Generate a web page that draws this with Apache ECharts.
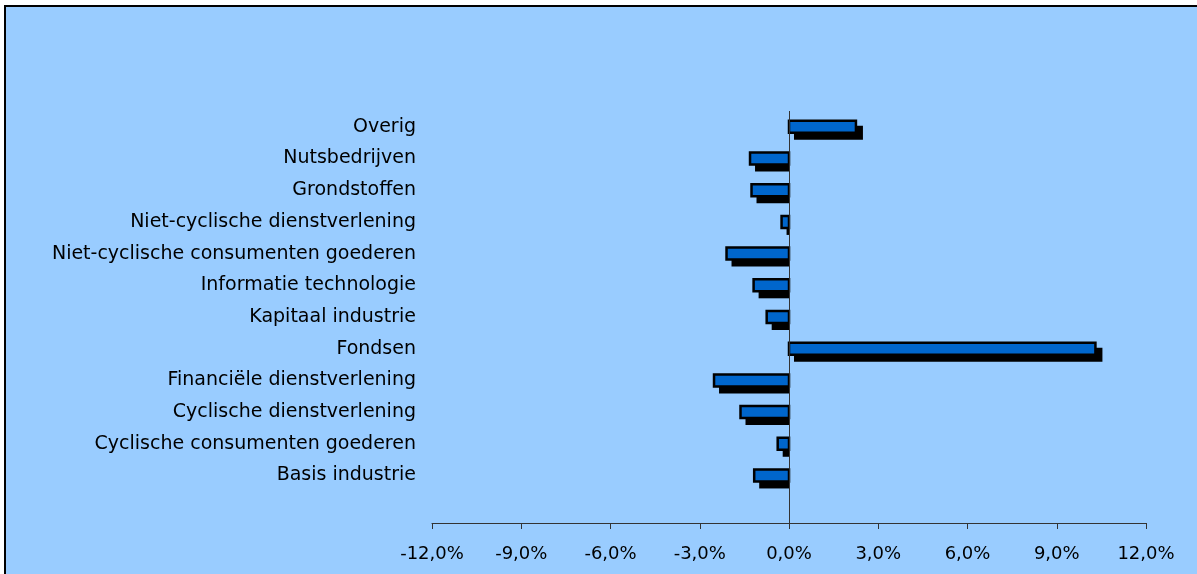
<!DOCTYPE html>
<html>
<head>
<meta charset="utf-8">
<script src="https://cdn.jsdelivr.net/npm/echarts@6/dist/echarts.min.js"></script>
<style>
  html, body { margin: 0; padding: 0; background: #fff; overflow: hidden; }
  #frame {
    position: absolute; left: 4px; top: 5px; width: 1300px; height: 700px;
    background: #99ccff; border: 2px solid #000;
  }
  #chart { position: absolute; left: 0; top: 0; width: 1197px; height: 574px; }
</style>
</head>
<body>
<div id="frame"></div>
<div id="chart"></div>
<script>
// categories from bottom to top ('' = lege rij onderaan)
const categories = [
  '',
  'Basis industrie',
  'Cyclische consumenten goederen',
  'Cyclische dienstverlening',
  'Financiële dienstverlening',
  'Fondsen',
  'Kapitaal industrie',
  'Informatie technologie',
  'Niet-cyclische consumenten goederen',
  'Niet-cyclische dienstverlening',
  'Grondstoffen',
  'Nutsbedrijven',
  'Overig'
];
// rendement in %
const values = [null, -1.17, -0.38, -1.63, -2.52, 10.3, -0.75, -1.19, -2.1, -0.25, -1.26, -1.31, 2.25];
const xTicks = { min: -12, max: 12, interval: 3 };

const myChart = echarts.init(document.getElementById('chart'));

const renderBar = (params, api) => {
  const v = api.value(0);
  const cat = api.value(1);
  const p = api.coord([v, cat]);
  const p0 = api.coord([0, cat]);
  const h = 12;
  const d = 6; // schaduw offset
  const x1 = Math.min(p[0], p0[0]);
  const x2 = Math.max(p[0], p0[0]);
  const y = p[1] - h / 2;
  let sx1, sx2;
  if (v >= 0) {
    sx1 = x1 + d; sx2 = x2 + d;
  } else {
    sx1 = x1 + d; sx2 = x2;
  }
  return {
    type: 'group',
    children: [
      {
        type: 'rect',
        shape: { x: sx1 - 1, y: y + d - 1, width: Math.max(sx2 - sx1 + 2, 0), height: h + 2 },
        style: { fill: '#000' }
      },
      {
        type: 'rect',
        shape: { x: x1, y: y, width: x2 - x1, height: h },
        style: { fill: '#0066cc', stroke: '#000', lineWidth: 2.5 }
      }
    ]
  };
};

const option = {
  animation: false,
  backgroundColor: 'transparent',
  textStyle: { fontFamily: 'DejaVu Sans, sans-serif' },
  grid: { left: 432, right: 51, top: 111, bottom: 51, containLabel: false },
  xAxis: {
    type: 'value',
    min: xTicks.min,
    max: xTicks.max,
    interval: xTicks.interval,
    axisLine: { show: true, onZero: false, lineStyle: { color: '#333', width: 1 } },
    axisTick: { show: true, length: 6, lineStyle: { color: '#333' } },
    splitLine: { show: false },
    axisLabel: {
      color: '#000',
      fontSize: 18,
      margin: 22,
      formatter: (v) => v.toFixed(1).replace('.', ',') + '%'
    }
  },
  yAxis: {
    type: 'category',
    data: categories,
    axisLine: { show: false },
    axisTick: { show: false },
    axisLabel: { color: '#000', fontSize: 19, margin: 16 }
  },
  series: [
    {
      type: 'custom',
      renderItem: renderBar,
      data: values.map((v, i) => [v, i]).filter((d) => d[0] !== null),
      encode: { x: 0, y: 1 },
      markLine: {
        silent: true,
        symbol: 'none',
        label: { show: false },
        lineStyle: { color: '#333', width: 1, type: 'solid' },
        data: [{ xAxis: 0 }]
      },
      z: 2
    }
  ]
};
option && myChart.setOption(option);
window.addEventListener('resize', myChart.resize);
</script>
</body>
</html>
